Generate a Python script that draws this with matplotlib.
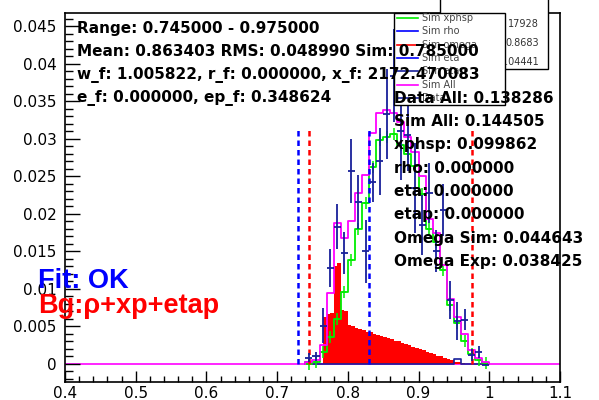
import numpy as np
import matplotlib
matplotlib.use("Agg")
import matplotlib.pyplot as plt
from matplotlib.patches import Rectangle
from matplotlib.lines import Line2D
from matplotlib.ticker import MultipleLocator, FuncFormatter

# ---------------- data ----------------
# 0.01-wide bins, left edges 0.74 ... 0.99
sim_left = [0.74, 0.75, 0.76, 0.77, 0.78, 0.79, 0.80, 0.81, 0.82, 0.83, 0.84, 0.85, 0.86,
            0.87, 0.88, 0.89, 0.90, 0.91, 0.92, 0.93, 0.94, 0.95, 0.96, 0.97, 0.98, 0.99]
sim_all = [0.0003, 0.0005, 0.0025, 0.0095, 0.0188, 0.0168, 0.0190, 0.0228, 0.0252, 0.0308,
           0.0334, 0.0338, 0.0334, 0.0322, 0.0303, 0.0282, 0.0250, 0.0193, 0.0175, 0.0132,
           0.0086, 0.0062, 0.0040, 0.0018, 0.0008, 0.0002]
sim_xphsp = [0.0, 0.0003, 0.0016, 0.0036, 0.0060, 0.0096, 0.0138, 0.0180, 0.0215, 0.0263,
             0.0298, 0.0303, 0.0306, 0.0292, 0.0280, 0.0264, 0.0226, 0.0180, 0.0162, 0.0125,
             0.0078, 0.0055, 0.0030, 0.0013, 0.0005, 0.0001]
sim_rho = [0.0003, 0.0, 0.0, 0.0, 0.0, 0.0, 0.0, 0.0, 0.0, 0.0, 0.0, 0.0, 0.0,
           0.0, 0.0, 0.0, 0.0, 0.0, 0.0, 0.0, 0.0, 0.0006, 0.0, 0.0, 0.0, 0.0]

data_y = [0.0008, 0.0010, 0.0051, 0.0128, 0.0183, 0.0148, 0.0257, 0.0216, 0.0150, 0.0242,
          0.0270, 0.0333, 0.0384, 0.0310, 0.0305, 0.0235, 0.0185, 0.0228, 0.0150, 0.0205,
          0.0085, 0.0057, 0.0059, 0.0012, 0.0016, -0.0001]
data_err = [0.0006, 0.0006, 0.0023, 0.0025, 0.0030, 0.0028, 0.0043, 0.0036, 0.0042, 0.0026,
            0.0045, 0.0060, 0.0062, 0.0065, 0.0048, 0.0060, 0.0040, 0.0040, 0.0028, 0.0035,
            0.0025, 0.0025, 0.0014, 0.0008, 0.0008, 0.0001]

# red (background) histogram, 0.005-wide bins, left edges 0.765 ... 0.965
bg_left = [0.765, 0.770, 0.775, 0.780, 0.785, 0.790, 0.795, 0.800, 0.805, 0.810, 0.815,
           0.820, 0.825, 0.830, 0.835, 0.840, 0.845, 0.850, 0.855, 0.860, 0.865, 0.870,
           0.875, 0.880, 0.885, 0.890, 0.895, 0.900, 0.905, 0.910, 0.915, 0.920, 0.925,
           0.930, 0.935, 0.940, 0.945, 0.950, 0.955, 0.960, 0.965]
bg_vals = [0.0062, 0.0066, 0.0068, 0.0130, 0.0134, 0.0072, 0.0070, 0.0052, 0.0050, 0.0048,
           0.0046, 0.0045, 0.0043, 0.0042, 0.0040, 0.0039, 0.0037, 0.0036, 0.0034, 0.0033,
           0.0031, 0.0030, 0.0028, 0.0027, 0.0025, 0.0023, 0.0021, 0.0020, 0.0018, 0.0016,
           0.0015, 0.0013, 0.0011, 0.0010, 0.0008, 0.0006, 0.0005, 0.0003, 0.0002, 0.0001,
           0.00005]

blue_cuts = [0.73, 0.83]
red_cuts = [0.745, 0.975]
cut_height = 0.0313

left_lines = ["Range: 0.745000 - 0.975000",
              "Mean: 0.863403 RMS: 0.048990 Sim: 0.785000",
              "w_f: 1.005822, r_f: 0.000000, x_f: 2172.470083",
              "e_f: 0.000000, ep_f: 0.348624"]
right_lines = ["Data All: 0.138286", "Sim All: 0.144505", "xphsp: 0.099862",
               "rho: 0.000000", "eta: 0.000000", "etap: 0.000000",
               "Omega Sim: 0.044643", "Omega Exp: 0.038425"]
legend_labels = ["Sim xphsp", "Sim rho", "Sim omega", "Sim eta", "Sim etap", "Sim All", "Data"]
stats_labels = ["Entries", "Mean", "RMS"]
stats_values = ["17928", "0.8683", "0.04441"]

GREEN = "#00ee00"
MAGENTA = "#ff00ff"
NAVY = "#18209a"
RED = "#ff0000"
BLUE = "#0000ff"
legend_colors = [GREEN, BLUE, RED, BLUE, NAVY, MAGENTA, NAVY]

W, H = 599, 400
fig = plt.figure(figsize=(W / 100, H / 100), dpi=100)
ax = fig.add_axes([65 / W, 1 - 381.7 / H, 495 / W, (381.7 - 12.7) / H])
ax.set_xlim(0.4, 1.1)
ax.set_ylim(-0.00236, 0.04683)

sw = 0.01
bw = 0.005
sim_left_a = np.array(sim_left)
sim_edges = np.append(sim_left_a, sim_left_a[-1] + sw)
bg_left_a = np.array(bg_left)
bg_edges = np.append(bg_left_a, bg_left_a[-1] + bw)

def step_xy(edges, vals):
    v = np.asarray(vals)
    x = np.repeat(edges, 2)
    y = np.concatenate([[0], np.repeat(v, 2), [0]])
    return x, y

ax.axhline(0, color=MAGENTA, lw=1.2, zorder=1)
# red filled background
ax.stairs(bg_vals, bg_edges, fill=True, color=RED, lw=0, zorder=2)
# navy rho histogram
x, y = step_xy(sim_edges, sim_rho)
ax.plot(x, y, color=NAVY, lw=1.2, zorder=3)
# green xphsp
x, y = step_xy(sim_edges, sim_xphsp)
ax.plot(x, y, color=GREEN, lw=1.3, zorder=4)
ax.errorbar(sim_left_a + sw / 2, sim_xphsp, yerr=0.0008, xerr=0.0028, fmt='none',
            ecolor=GREEN, elinewidth=1.1, zorder=4)
# magenta all
x, y = step_xy(sim_edges, sim_all)
ax.plot(x, y, color=MAGENTA, lw=1.3, zorder=5)
# cut lines
ax.vlines(blue_cuts, 0, cut_height, colors=BLUE, lw=1.8, linestyles=(0, (2.2, 1.6)), zorder=6)
ax.vlines(red_cuts, 0, cut_height, colors=RED, lw=1.8, linestyles=(0, (2.2, 1.6)), zorder=6)
# data
ax.errorbar(sim_left_a + sw / 2, data_y, yerr=data_err, xerr=sw / 2, fmt='none',
            ecolor=NAVY, elinewidth=1.3, zorder=7)

# axes styling (ROOT-like)
ax.xaxis.set_major_locator(MultipleLocator(0.1))
ax.xaxis.set_minor_locator(MultipleLocator(0.02))
ax.yaxis.set_major_locator(MultipleLocator(0.005))
ax.yaxis.set_minor_locator(MultipleLocator(0.001))
fmt = FuncFormatter(lambda v, p: "%g" % round(v, 4))
ax.xaxis.set_major_formatter(fmt)
ax.yaxis.set_major_formatter(fmt)
ax.tick_params(axis='both', which='both', direction='in', top=False, right=False,
               labelsize=11, colors='black', width=1.0)
ax.tick_params(axis='y', which='major', length=11, pad=6)
ax.tick_params(axis='y', which='minor', length=6)
ax.tick_params(axis='x', which='major', length=8, pad=3)
ax.tick_params(axis='x', which='minor', length=4.5)
for s in ax.spines.values():
    s.set_linewidth(1.2)
    s.set_color('black')

def fx(px):
    return px / W

def fy(py):
    return 1 - py / H

# stats box (behind legend)
fig.add_artist(Rectangle((fx(440), fy(69)), (548 - 440) / W, (69 + 20) / H,
                         transform=fig.transFigure, facecolor='white', edgecolor='black',
                         lw=1.0, zorder=1.2))
for i, (lab, val) in enumerate(zip(stats_labels, stats_values)):
    yy = fy(24 + 19 * i)
    fig.text(fx(446), yy, lab, fontsize=7, ha='left', va='center', color='#333333', zorder=1.5)
    fig.text(fx(539), yy, val, fontsize=7, ha='right', va='center', color='#333333', zorder=1.5)

# legend box
fig.add_artist(Rectangle((fx(394), fy(105)), (505 - 394) / W, (105 - 12.7) / H,
                         transform=fig.transFigure, facecolor='white', edgecolor='black',
                         lw=1.0, zorder=2))
for i, (lab, col) in enumerate(zip(legend_labels, legend_colors)):
    yy = fy(18 + 13.3 * i)
    fig.add_artist(Line2D([fx(397), fx(418)], [yy, yy], transform=fig.transFigure,
                          color=col, lw=1.2, zorder=2.2))
    fig.text(fx(422), yy, lab, fontsize=7, ha='left', va='center', color='#444444',
             zorder=2.5)

# texts
for i, t in enumerate(left_lines):
    fig.text(fx(77), fy(29 + 23 * i), t, fontsize=11, fontweight='bold',
             family='DejaVu Sans', ha='left', va='center', color='black', zorder=4)
for i, t in enumerate(right_lines):
    fig.text(fx(394), fy(98.3 + 23.3 * i), t, fontsize=11, fontweight='bold',
             family='DejaVu Sans', ha='left', va='center', color='black', zorder=4)

fig.text(fx(38), fy(280.7), "Fit: OK", fontsize=19.5, fontweight='bold',
         family='Liberation Sans', ha='left', va='center', color=BLUE, zorder=4)
fig.text(fx(38), fy(306), "Bg:ρ+xp+etap", fontsize=19.5, fontweight='bold',
         family=['Liberation Sans', 'DejaVu Sans'], ha='left', va='center', color=RED, zorder=4)

fig.savefig("out.png", dpi=100, facecolor='white')
